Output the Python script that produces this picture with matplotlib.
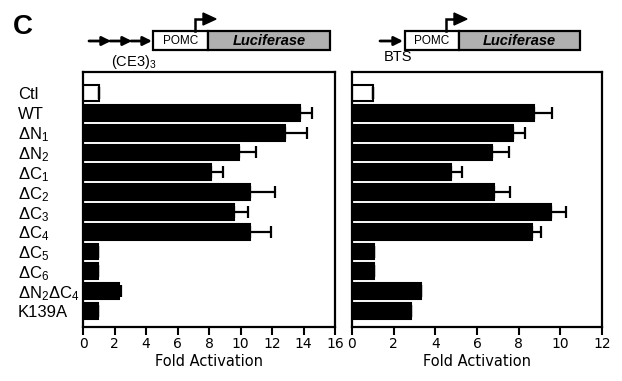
import matplotlib
matplotlib.use('Agg')
import numpy as np
import matplotlib.pyplot as plt
from matplotlib.patches import Rectangle, FancyArrowPatch, Polygon

plt.rcParams['font.family'] = ['Liberation Sans', 'DejaVu Sans']
plt.rcParams['mathtext.fontset'] = 'custom'
plt.rcParams['mathtext.rm'] = 'Liberation Sans'
plt.rcParams['mathtext.default'] = 'regular'

# data
labels = ['Ctl', 'WT', r'$\Delta$N$_1$', r'$\Delta$N$_2$', r'$\Delta$C$_1$', r'$\Delta$C$_2$',
          r'$\Delta$C$_3$', r'$\Delta$C$_4$', r'$\Delta$C$_5$', r'$\Delta$C$_6$',
          r'$\Delta$N$_2$$\Delta$C$_4$', 'K139A']
ce3_vals = [1.0, 13.8, 12.85, 9.9, 8.1, 10.6, 9.6, 10.6, 0.95, 0.95, 2.3, 0.95]
ce3_err = [0, 0.75, 1.35, 1.1, 0.8, 1.6, 0.9, 1.35, 0, 0, 0.1, 0]
bts_vals = [1.0, 8.74, 7.72, 6.74, 4.75, 6.83, 9.55, 8.63, 1.05, 1.05, 3.29, 2.83]
bts_err = [0, 0.86, 0.58, 0.81, 0.51, 0.76, 0.73, 0.44, 0, 0, 0, 0]
ce3_ticks = np.arange(0, 17, 2)
bts_ticks = np.arange(0, 13, 2)

W, H = 622, 381
fig = plt.figure(figsize=(W / 100, H / 100), dpi=100)


def panel(rect, vals, err, ticks, show_labels):
    ax = fig.add_axes(rect)
    y = np.arange(len(vals))
    colors = ['white'] + ['black'] * (len(vals) - 1)
    ax.barh(y, vals, height=0.8, color=colors, edgecolor='black', linewidth=1.5,
            xerr=[np.zeros(len(err)), err], capsize=4.5,
            error_kw=dict(elinewidth=1.6, capthick=1.6, ecolor='black'))
    ax.set_ylim(11.81, -1.06)
    ax.set_xlim(ticks[0], ticks[-1])
    ax.set_xticks(ticks)
    ax.set_xticklabels([str(t) for t in ticks], family='DejaVu Sans', fontsize=10)
    ax.tick_params(axis='x', direction='out', length=6, width=1.5, pad=1.5)
    ax.set_yticks(y)
    if show_labels:
        ax.set_yticklabels(labels, ha='left', fontsize=12)
        ax.tick_params(axis='y', length=0, pad=47)
    else:
        ax.set_yticklabels([])
        ax.tick_params(axis='y', length=0)
    for s in ax.spines.values():
        s.set_linewidth(1.6)
    ax.set_xlabel('Fold Activation', fontsize=10.5, family='DejaVu Sans', labelpad=2)
    return ax


panel([83 / W, 54 / H, 252 / W, 255 / H], ce3_vals, ce3_err, ce3_ticks, True)
panel([352 / W, 54 / H, 250 / W, 255 / H], bts_vals, bts_err, bts_ticks, False)

# construct diagrams on top
ov = fig.add_axes([0, 0, 1, 1])
ov.set_xlim(0, W)
ov.set_ylim(H, 0)
ov.axis('off')

fig.text(13 / W, 1 - 27 / H, 'C', fontsize=20, fontweight='bold', va='center')


def construct(x0, x_pomc, x1, arrows, label, lx, ly):
    for a, b in arrows:
        ov.add_patch(FancyArrowPatch((a, 41), (b, 41), arrowstyle='-|>', mutation_scale=13,
                                     linewidth=2, color='black', shrinkA=0, shrinkB=0))
    ov.add_patch(Rectangle((x0, 31), x_pomc - x0, 19, facecolor='white', edgecolor='black', linewidth=1.6))
    ov.add_patch(Rectangle((x_pomc, 31), x1 - x_pomc, 19, facecolor='#b0b0b0', edgecolor='black', linewidth=1.6))
    ov.text((x0 + x_pomc) / 2, 41, 'POMC', fontsize=8.5, ha='center', va='center')
    ov.text((x_pomc + x1) / 2, 41, 'Luciferase', fontsize=10.5, ha='center', va='center',
            fontweight='bold', style='italic')
    bx = x_pomc - 13
    ov.plot([bx, bx, bx + 8], [31, 19, 19], color='black', linewidth=1.8, solid_joinstyle='miter')
    ov.add_patch(Polygon([(bx + 8, 13), (bx + 21, 19), (bx + 8, 25)], closed=True,
                         facecolor='black', edgecolor='black'))
    ov.text(lx, ly, label, fontsize=10.5, ha='center', va='center')


construct(153, 208, 330, [(89, 111), (110, 132), (131, 152)], '(CE3)$_3$', 134, 62)
construct(405, 459, 580, [(380, 403)], 'BTS', 398, 57)

plt.savefig('out.png', dpi=100)
